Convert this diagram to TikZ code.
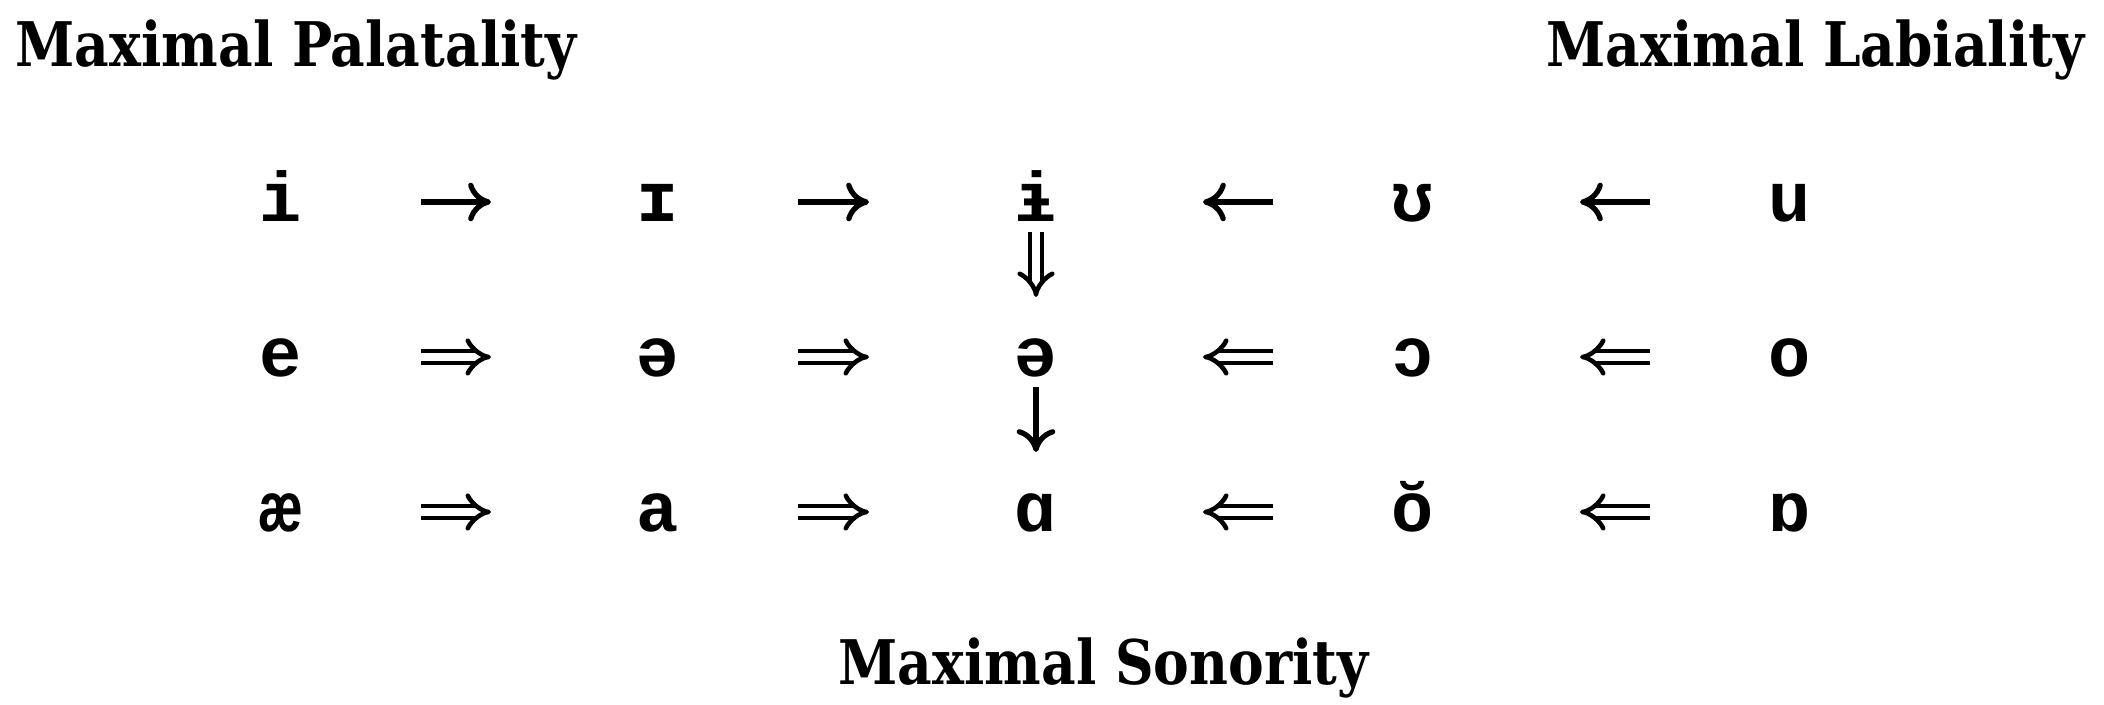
\documentclass[tikz,border=0pt]{standalone}
\usepackage{fontspec}
\usepackage{tikz}
\usetikzlibrary{arrows.meta}
\newfontfamily\lblfont[FakeStretch=0.87]{DejaVu Serif}
\newfontfamily\ipafont{Liberation Mono}
\tikzset{
  corner/.style={font=\lblfont\bfseries\fontsize{17.5}{19}\selectfont, inner sep=0pt},
  vowel/.style={font=\ipafont\bfseries\fontsize{20}{20}\selectfont, inner sep=0pt, anchor=base},
  hgap/.style={shorten <=1.40cm, shorten >=1.67cm},
  vgap/.style={shorten <=0.10cm, shorten >=0.80cm},
  sarrow/.style={line width=1.5pt, -{To[length=6.5pt,width=11pt]}},
  darrow/.style={double, double distance=2.2pt, line width=1.3pt, -{Implies[length=6pt,width=11pt]}}
}

\begin{document}
\begin{tikzpicture}
\def\ra{4.83}
\def\rb{3.28}
\def\rc{1.73}
\def\ay{0.20cm}
\useasboundingbox (0,0) rectangle (21.04,7.05);
% Corner labels
\node[corner, anchor=base west] (pal) at (0.15,6.38) {Maximal Palatality};
\node[corner, anchor=base east] (lab) at (20.85,6.38) {Maximal Labiality};
\node[corner, anchor=base west] (son) at (8.38,0.20) {Maximal Sonority};
% Vowels, one row at a time
\foreach \c/\x/\v in {1/2.81/i,2/6.58/ɪ,3/10.36/ɨ,4/14.13/ʊ,5/17.90/u}
  \node[vowel] (t\c) at (\x,\ra) {\v};
\foreach \c/\x/\v in {1/2.81/e,2/6.58/ə,3/10.36/ə,4/14.13/ɔ,5/17.90/o}
  \node[vowel] (m\c) at (\x,\rb) {\v};
\foreach \c/\x/\v in {1/2.81/æ,2/6.58/a,3/10.36/ɑ,4/14.13/ŏ,5/17.90/ɒ}
  \node[vowel] (b\c) at (\x,\rc) {\v};
% Top row arrows
\foreach \a/\b in {t1/t2, t2/t3, t4/t3, t5/t4}
  \draw[sarrow, hgap] ([yshift=\ay]\a.base) -- ([yshift=\ay]\b.base);
% Middle and bottom row arrows
\foreach \r in {m,b}{
  \foreach \a/\b in {1/2, 2/3, 4/3, 5/4}
    \draw[darrow, hgap] ([yshift=\ay]\r\a.base) -- ([yshift=\ay]\r\b.base);
}
% Down the middle column
\draw[darrow, vgap] (t3.base) -- (m3.base);
\draw[sarrow, vgap] (m3.base) -- (b3.base);
\end{tikzpicture}
\end{document}
